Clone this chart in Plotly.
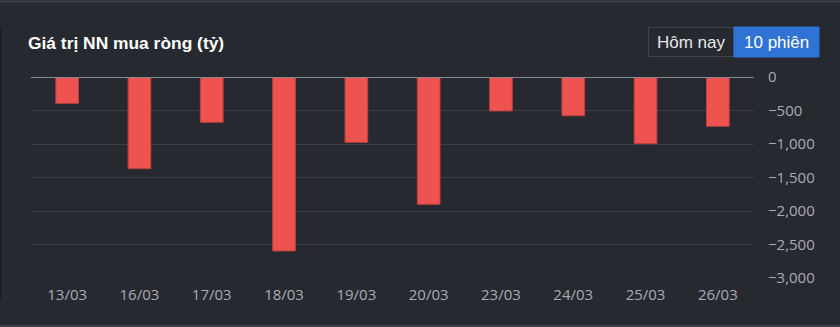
import plotly.graph_objects as go

dates = ["13/03", "16/03", "17/03", "18/03", "19/03", "20/03", "23/03", "24/03", "25/03", "26/03"]
net_buy = [-393, -1368, -676, -2597, -975, -1900, -507, -578, -995, -736]
y_ticks = [0, -500, -1000, -1500, -2000, -2500, -3000]
title_text = "Giá trị NN mua ròng (tỷ)"
btn_labels = ["Hôm nay", "10 phiên"]

BG = "#262930"
GRID = "#3b3e46"
TICK = "#a9abb3"

W, H = 840, 327
L, R, T, B = 31, 86, 77, 49
PW, PH = W - L - R, H - T - B

def px(x):
    return (x - L) / PW

def py(y):
    return (H - B - y) / PH

fig = go.Figure()
fig.add_trace(go.Bar(
    x=dates, y=net_buy,
    marker=dict(color="#ef5350", line=dict(color="#b9403e", width=1)),
    hoverinfo="x+y",
))

shapes = [
    dict(type="line", xref="paper", yref="y", x0=0, x1=1, y0=0, y1=0,
         line=dict(color="#878a93", width=2), layer="above"),
    dict(type="line", xref="paper", yref="paper", x0=px(0), x1=px(W), y0=py(1.5), y1=py(1.5),
         line=dict(color="#3d4048", width=2)),
    dict(type="line", xref="paper", yref="paper", x0=px(0), x1=px(W), y0=py(326), y1=py(326),
         line=dict(color="#3d4048", width=2)),
    dict(type="line", xref="paper", yref="paper", x0=px(0.5), x1=px(0.5), y0=py(27), y1=py(300),
         line=dict(color="#1d1f25", width=1.5)),
    dict(type="rect", xref="paper", yref="paper", x0=px(648.5), x1=px(734), y0=py(27.5), y1=py(56.5),
         line=dict(color="#40444c", width=1), fillcolor="#262930"),
    dict(type="rect", xref="paper", yref="paper", x0=px(734), x1=px(819), y0=py(27), y1=py(57),
         line=dict(color="#2f74d4", width=1), fillcolor="#2f74d4"),
]

annotations = [
    dict(text="<b>" + title_text + "</b>", xref="paper", yref="paper", x=px(26), y=py(43),
         xanchor="left", yanchor="middle", showarrow=False,
         font=dict(family="Liberation Sans, Arial", size=17.4, color="#ffffff")),
    dict(text=btn_labels[0], xref="paper", yref="paper", x=px(691), y=py(42),
         xanchor="center", yanchor="middle", showarrow=False,
         font=dict(family="Liberation Sans, Arial", size=17, color="#e6e7ea")),
    dict(text=btn_labels[1], xref="paper", yref="paper", x=px(776.5), y=py(42),
         xanchor="center", yanchor="middle", showarrow=False,
         font=dict(family="Liberation Sans, Arial", size=17, color="#ffffff")),
]

fig.update_layout(
    width=W, height=H,
    margin=dict(l=L, r=R, t=T, b=B, pad=0),
    paper_bgcolor=BG, plot_bgcolor=BG,
    bargap=0.686,
    showlegend=False,
    shapes=shapes,
    annotations=annotations,
    font=dict(family="Open Sans", size=15, color=TICK),
)
fig.update_xaxes(
    showgrid=False, zeroline=False, showline=False,
    ticks="outside", ticklen=3, tickcolor=BG,
    tickfont=dict(family="Open Sans", size=15, color=TICK),
)
fig.update_yaxes(
    side="right", range=[-3000, 0],
    tickvals=y_ticks, tickformat=",",
    showgrid=True, gridcolor=GRID, gridwidth=1,
    zeroline=False, showline=False,
    ticks="outside", ticklen=10, tickcolor=BG,
    tickfont=dict(family="Open Sans", size=15, color=TICK),
)

fig.write_html("out.html")
